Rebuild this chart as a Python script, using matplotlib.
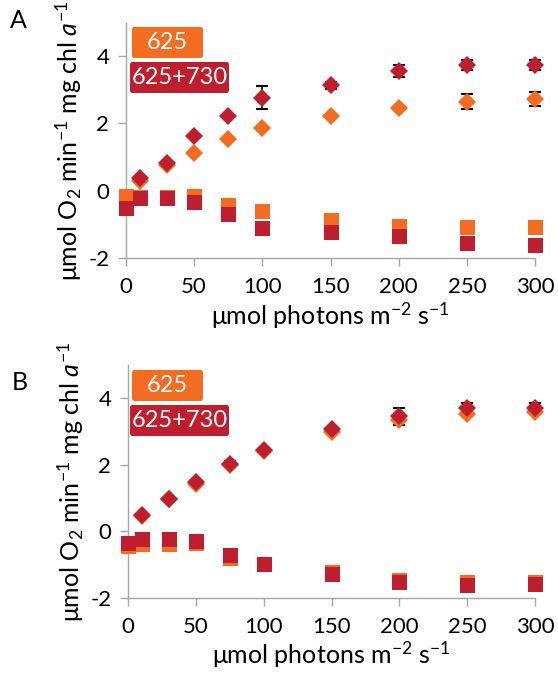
import matplotlib
matplotlib.use("Agg")
import matplotlib.pyplot as plt
from matplotlib.patches import FancyBboxPatch
import numpy as np

plt.rcParams['font.family'] = ['Lato', 'DejaVu Sans']
plt.rcParams['mathtext.fontset'] = 'custom'
plt.rcParams['mathtext.rm'] = 'Lato'
plt.rcParams['mathtext.it'] = 'Lato:italic'

light = [0, 10, 30, 50, 75, 100, 150, 200, 250, 300]

# Panel A
a_gross_625 = [np.nan, 0.28, 0.75, 1.12, 1.55, 1.85, 2.22, 2.47, 2.65, 2.72]
a_gross_625_err = [0, 0, 0, 0, 0, 0, 0, 0, 0.22, 0.2]
a_gross_730 = [np.nan, 0.39, 0.82, 1.63, 2.22, 2.77, 3.13, 3.56, 3.75, 3.73]
a_gross_730_err = [0, 0, 0, 0, 0, 0.33, 0.1, 0.19, 0.15, 0.15]
a_resp_625 = [-0.15, -0.2, -0.2, -0.15, -0.42, -0.6, -0.86, -1.04, -1.07, -1.07]
a_resp_625_err = [0, 0, 0, 0, 0, 0, 0, 0, 0, 0]
a_resp_730 = [-0.52, -0.23, -0.22, -0.33, -0.69, -1.11, -1.23, -1.35, -1.55, -1.6]
a_resp_730_err = [0, 0, 0, 0, 0, 0.15, 0, 0, 0, 0]

# Panel B
b_gross_625 = [np.nan, 0.45, 0.97, 1.43, 2.0, 2.4, 2.98, 3.35, 3.53, 3.6]
b_gross_625_err = [0, 0, 0, 0, 0, 0, 0, 0, 0, 0]
b_gross_730 = [np.nan, 0.48, 0.97, 1.48, 2.02, 2.45, 3.08, 3.45, 3.7, 3.7]
b_gross_730_err = [0, 0, 0, 0, 0.1, 0, 0, 0.25, 0.15, 0.15]
b_resp_625 = [-0.45, -0.4, -0.4, -0.35, -0.8, -1.0, -1.22, -1.47, -1.52, -1.53]
b_resp_625_err = [0, 0, 0, 0, 0, 0, 0, 0, 0, 0]
b_resp_730 = [-0.37, -0.25, -0.25, -0.3, -0.73, -1.0, -1.28, -1.52, -1.63, -1.58]
b_resp_730_err = [0, 0, 0, 0, 0, 0, 0, 0, 0, 0]

series_labels = ["625", "625+730"]
c625 = '#F36C21'
c730 = '#BE1E2D'
gray = '#A6A6A6'

W, H = 558, 678
fig = plt.figure(figsize=(W / 100, H / 100), dpi=100)


def px_axes(l, r, t, b):
    return fig.add_axes([l / W, 1 - b / H, (r - l) / W, (b - t) / H])


def draw_panel(ax, data):
    (g625, g625e, g730, g730e, r625, r625e, r730, r730e) = data
    for y, e, c, m, ms in [(r625, r625e, c625, 's', 10.8),
                           (g625, g625e, c625, 'D', 8.7),
                           (r730, r730e, c730, 's', 10.8),
                           (g730, g730e, c730, 'D', 8.7)]:
        ye = np.array(e, dtype=float)
        ax.errorbar(light, y, yerr=np.where(ye > 0, ye, np.nan), fmt='none',
                    ecolor='black', elinewidth=1.2, capsize=4.5, capthick=1.5, zorder=2)
        ax.plot(light, y, linestyle='none', marker=m, markersize=ms, color=c,
                markeredgewidth=0, zorder=3)
    ax.set_xlim(0, 300)
    ax.set_ylim(-2, 5)
    ax.set_xticks([0, 50, 100, 150, 200, 250, 300])
    ax.set_yticks([-2, 0, 2, 4])
    ax.set_yticklabels(['-2', '0', '2', '4'])
    for s in ['top', 'right']:
        ax.spines[s].set_visible(False)
    for s in ['left', 'bottom']:
        ax.spines[s].set_color(gray)
        ax.spines[s].set_linewidth(1.0)
    ax.tick_params(axis='both', colors=gray, labelcolor='black', labelsize=16,
                   length=6, width=1.0, direction='out')
    ax.tick_params(axis='x', pad=8)
    ax.tick_params(axis='y', pad=6)
    for art in ax.lines + ax.collections:
        art.set_clip_on(False)
    ax.set_ylabel(r'μmol O$_2$ min$^{-1}$ mg chl $\it{a}^{-1}$', fontsize=18, labelpad=3)
    ax.set_xlabel(r'μmol photons m$^{-2}$ s$^{-1}$', fontsize=18, labelpad=2)


axA = px_axes(126, 535, 22.5, 258)
draw_panel(axA, (a_gross_625, a_gross_625_err, a_gross_730, a_gross_730_err,
                 a_resp_625, a_resp_625_err, a_resp_730, a_resp_730_err))
axB = px_axes(128, 535, 365, 597.5)
draw_panel(axB, (b_gross_625, b_gross_625_err, b_gross_730, b_gross_730_err,
                 b_resp_625, b_resp_625_err, b_resp_730, b_resp_730_err))


def legend_box(l, r, t, b, color, text):
    p = FancyBboxPatch((l / W, 1 - b / H), (r - l) / W, (b - t) / H,
                       boxstyle='round,pad=0,rounding_size=0.004',
                       transform=fig.transFigure, facecolor=color, edgecolor='none')
    fig.patches.append(p)
    fig.text((l + r) / 2 / W, 1 - (t + b) / 2 / H, text, color='white',
             fontsize=17, ha='center', va='center')


for off in [0, 343]:
    legend_box(132, 203, 27 + off, 58 + off, c625, series_labels[0])
    legend_box(130, 229, 62 + off, 93 + off, c730, series_labels[1])

fig.text(10 / W, 1 - 20 / H, 'A', fontsize=18, ha='left', va='center')
fig.text(12 / W, 1 - 383 / H, 'B', fontsize=18, ha='left', va='center')

fig.savefig('out.png', dpi=100)
